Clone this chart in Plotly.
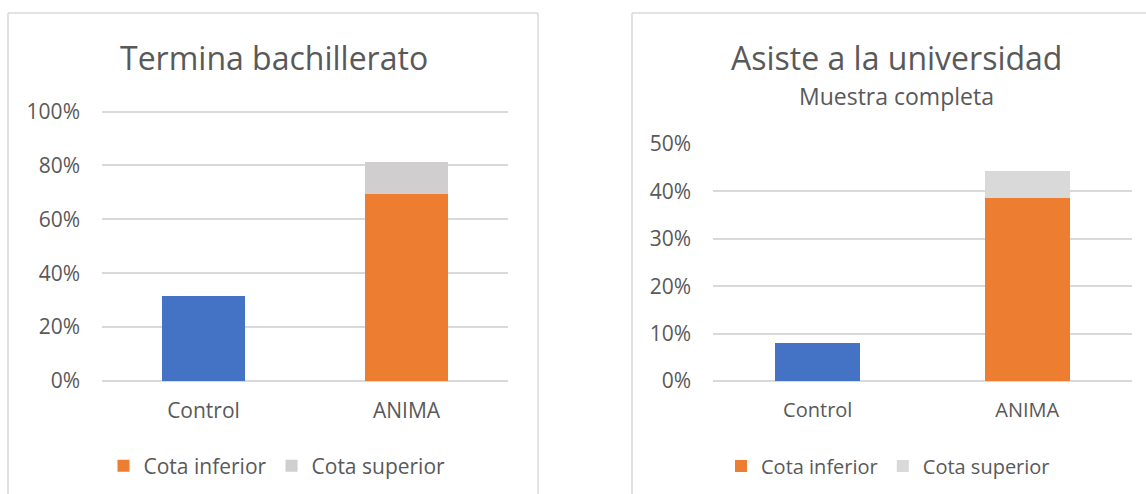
import plotly.graph_objects as go

W, H = 1146, 494

categories = ["Control", "ANIMA"]

# Panel 1: Termina bachillerato
p1_title = "Termina bachillerato"
p1_control = [0.315, None]
p1_inferior = [None, 0.694]
p1_superior = [None, 0.119]   # stacked on top of the lower bound
p1_ticks = [0, 0.2, 0.4, 0.6, 0.8, 1.0]
p1_ticklabels = ["0%", "20%", "40%", "60%", "80%", "100%"]

# Panel 2: Asiste a la universidad
p2_title = "Asiste a la universidad"
p2_subtitle = "Muestra completa"
p2_control = [0.080, None]
p2_inferior = [None, 0.385]
p2_superior = [None, 0.057]
p2_ticks = [0, 0.1, 0.2, 0.3, 0.4, 0.5]
p2_ticklabels = ["0%", "10%", "20%", "30%", "40%", "50%"]

BLUE = "#4472C4"
ORANGE = "#ED7D31"
GRAY1 = "#D0CECE"
GRAY2 = "#D9D9D9"
TXT = "#595959"
GRID = "#D9D9D9"
FONT = "Open Sans"


def px_x(v):
    return v / W


def px_y(v):
    return (H - v) / H


fig = go.Figure()

fig.add_trace(go.Bar(x=categories, y=p1_control, marker_color=BLUE, showlegend=False,
                     xaxis="x", yaxis="y", hoverinfo="skip"))
fig.add_trace(go.Bar(x=categories, y=p1_inferior, marker_color=ORANGE, name="Cota inferior",
                     xaxis="x", yaxis="y", legend="legend"))
fig.add_trace(go.Bar(x=categories, y=p1_superior, marker_color=GRAY1, name="Cota superior",
                     xaxis="x", yaxis="y", legend="legend"))

fig.add_trace(go.Bar(x=categories, y=p2_control, marker_color=BLUE, showlegend=False,
                     xaxis="x2", yaxis="y2", hoverinfo="skip"))
fig.add_trace(go.Bar(x=categories, y=p2_inferior, marker_color=ORANGE, name="Cota inferior",
                     xaxis="x2", yaxis="y2", legend="legend2"))
fig.add_trace(go.Bar(x=categories, y=p2_superior, marker_color=GRAY2, name="Cota superior",
                     xaxis="x2", yaxis="y2", legend="legend2"))

for t in fig.data:
    t.marker.line.width = 0

xaxis_common = dict(showgrid=False, zeroline=False, showline=False, ticks="", automargin=False,
                    ticklabelstandoff=15, fixedrange=True)
yaxis_common = dict(showgrid=True, gridcolor=GRID, gridwidth=1.5, zeroline=True,
                    zerolinecolor=GRID, zerolinewidth=1.5, automargin=False,
                    showline=False, ticks="", tickfont=dict(family=FONT, size=21, color=TXT),
                    ticklabelstandoff=21, fixedrange=True)

fig.update_layout(
    width=W, height=H,
    margin=dict(l=0, r=0, t=0, b=0, pad=0, autoexpand=False),
    paper_bgcolor="white", plot_bgcolor="white",
    barmode="stack", bargap=0.596,
    font=dict(family=FONT, color=TXT),
    xaxis=dict(domain=[px_x(102), px_x(508)], anchor="y",
               tickfont=dict(family=FONT, size=21, color=TXT), **xaxis_common),
    yaxis=dict(domain=[px_y(381), px_y(110.5)], anchor="x", range=[0, 1.004],
               tickvals=p1_ticks, ticktext=p1_ticklabels, **yaxis_common),
    xaxis2=dict(domain=[px_x(713), px_x(1132)], anchor="y2",
                tickfont=dict(family=FONT, size=20, color=TXT), **xaxis_common),
    yaxis2=dict(domain=[px_y(381), px_y(143)], anchor="x2", range=[0, 0.502],
                tickvals=p2_ticks, ticktext=p2_ticklabels, **yaxis_common),
    legend=dict(orientation="h", x=px_x(277), xanchor="center", y=px_y(466), yanchor="middle",
                font=dict(family=FONT, size=21, color=TXT), bgcolor="rgba(0,0,0,0)",
                traceorder="normal"),
    legend2=dict(orientation="h", x=px_x(888), xanchor="center", y=px_y(466), yanchor="middle",
                 font=dict(family=FONT, size=20, color=TXT), bgcolor="rgba(0,0,0,0)",
                 traceorder="normal"),
)

border = dict(color="#D9D9D9", width=1.5)
fig.add_shape(type="line", xref="paper", yref="paper", x0=px_x(8), x1=px_x(8), y0=px_y(13), y1=-0.1, line=border)
fig.add_shape(type="line", xref="paper", yref="paper", x0=px_x(538), x1=px_x(538), y0=px_y(13), y1=-0.1, line=border)
fig.add_shape(type="line", xref="paper", yref="paper", x0=px_x(8), x1=px_x(538), y0=px_y(13), y1=px_y(13), line=border)
fig.add_shape(type="line", xref="paper", yref="paper", x0=px_x(632), x1=px_x(632), y0=px_y(13), y1=-0.1, line=border)
fig.add_shape(type="line", xref="paper", yref="paper", x0=px_x(632), x1=1.1, y0=px_y(13), y1=px_y(13), line=border)

fig.add_annotation(text=p1_title, xref="paper", yref="paper", x=px_x(274), y=px_y(57),
                   xanchor="center", yanchor="middle", showarrow=False,
                   font=dict(family=FONT, size=32, color=TXT))
fig.add_annotation(text=p2_title, xref="paper", yref="paper", x=px_x(896), y=px_y(57),
                   xanchor="center", yanchor="middle", showarrow=False,
                   font=dict(family=FONT, size=32, color=TXT))
fig.add_annotation(text=p2_subtitle, xref="paper", yref="paper", x=px_x(896), y=px_y(96),
                   xanchor="center", yanchor="middle", showarrow=False,
                   font=dict(family=FONT, size=23, color=TXT))

fig.write_html("out.html", config={"displayModeBar": False},
               post_script="document.body.style.margin='0';document.body.style.overflow='hidden';")
